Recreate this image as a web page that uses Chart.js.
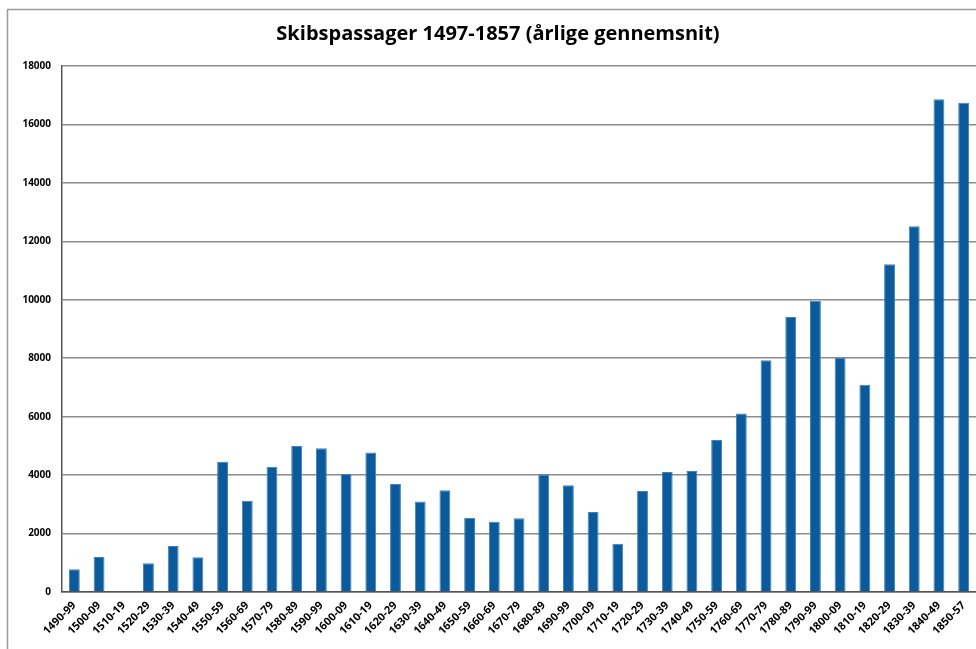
<!DOCTYPE html>
<html>
<head>
<meta charset="utf-8">
<script src="https://cdn.jsdelivr.net/npm/chart.js@4/dist/chart.umd.min.js"></script>
<style>
  html, body { margin: 0; padding: 0; background: #fff; }
  #wrap { width: 976px; height: 649px; }
</style>
</head>
<body>
<div id="wrap"><canvas id="graf"></canvas></div>
<script>
// perioder (x-akse)
var perioder = ['1490-99','1500-09','1510-19','1520-29','1530-39','1540-49','1550-59','1560-69','1570-79','1580-89',
  '1590-99','1600-09','1610-19','1620-29','1630-39','1640-49','1650-59','1660-69','1670-79','1680-89',
  '1690-99','1700-09','1710-19','1720-29','1730-39','1740-49','1750-59','1760-69','1770-79','1780-89',
  '1790-99','1800-09','1810-19','1820-29','1830-39','1840-49','1850-57']

// passagerer pr. år (gennemsnit)
var passagerer = [780, 1200, 0, 980, 1570, 1190, 4460, 3120, 4290, 5000,
  4920, 4040, 4770, 3700, 3100, 3480, 2540, 2400, 2520, 4020,
  3650, 2740, 1650, 3460, 4110, 4140, 5200, 6110, 7930, 9410,
  9970, 8020, 7090, 11220, 12520, 16860, 16740]

var yTicks = [0, 2000, 4000, 6000, 8000, 10000, 12000, 14000, 16000, 18000]

// ramme rundt om diagrammet
var ramme = {
  id: 'ramme',
  beforeDraw: function(chart){
    var ctx = chart.ctx
    ctx.save()
    ctx.strokeStyle = '#9a9a9a'
    ctx.lineWidth = 1.5
    ctx.strokeRect(7.5, 9.5, 1000, 700)
    ctx.restore()
  }
}

new Chart(document.getElementById('graf').getContext('2d'), {
  type: 'bar',
  data: {
    labels: perioder,
    datasets: [{
      label: 'Skibspassager',
      data: passagerer,
      backgroundColor: '#0a5a9c',
      borderColor: '#3f82bd',
      borderWidth: 1,
      borderSkipped: 'bottom',
      barPercentage: 0.44,
      categoryPercentage: 1
    }]
  },
  options: {
    responsive: true,
    maintainAspectRatio: false,
    animation: false,
    layout: { padding: { left: 20, right: 0, top: 0, bottom: 0 } },
    plugins: {
      legend: { display: false },
      tooltip: { enabled: false },
      title: {
        display: true,
        text: 'Skibspassager 1497-1857 (årlige gennemsnit)',
        color: '#000',
        font: { family: 'Open Sans', size: 20, weight: 'bold', lineHeight: 1.2 },
        padding: { top: 22, bottom: 20 }
      }
    },
    scales: {
      x: {
        grid: { display: false, drawTicks: false },
        border: { color: '#555', width: 1.5 },
        ticks: {
          color: '#000',
          font: { family: 'Open Sans', size: 11, weight: 'bold' },
          maxRotation: 45,
          minRotation: 45,
          autoSkip: false,
          padding: 7
        },
        afterFit: function(scale){
          scale.height = 57
          scale.paddingLeft = 0
          scale.paddingRight = 0
        }
      },
      y: {
        min: 0,
        max: 18000,
        afterBuildTicks: function(scale){
          scale.ticks = yTicks.map(function(v){ return { value: v } })
        },
        grid: { color: '#8c8c8c', lineWidth: 1.5, drawTicks: false },
        border: { color: '#555', width: 1.5 },
        ticks: {
          color: '#000',
          font: { family: 'Open Sans', size: 10, weight: 'bold' },
          padding: 11,
          callback: function(v){ return String(v) }
        },
        afterFit: function(scale){ scale.width = 42 }
      }
    }
  },
  plugins: [ramme]
})
</script>
</body>
</html>
